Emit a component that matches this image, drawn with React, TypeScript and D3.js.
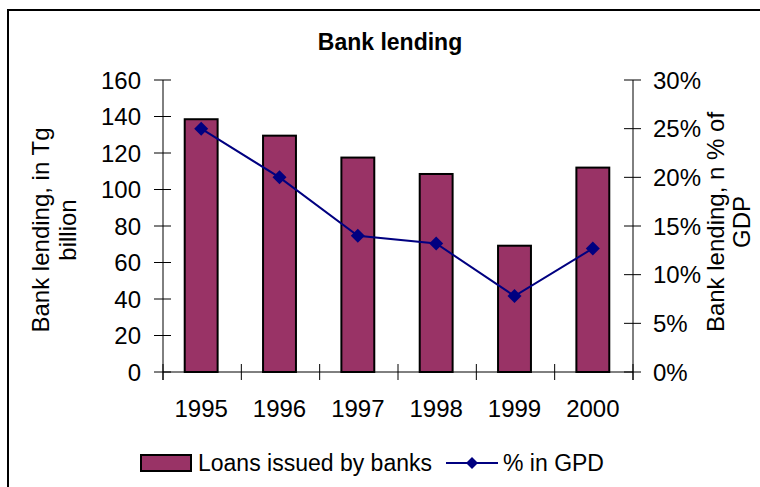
import React from "react";
import * as d3 from "d3";

const years = ["1995", "1996", "1997", "1998", "1999", "2000"];
const loans = [138.5, 129.5, 117.5, 108.5, 69.2, 112];
const pctGdp = [0.25, 0.2, 0.14, 0.132, 0.078, 0.127];
const leftTicks = [0, 20, 40, 60, 80, 100, 120, 140, 160];
const rightTicks = [0, 0.05, 0.1, 0.15, 0.2, 0.25, 0.3];

const W = 760;
const H = 487;
const FONT = "'Liberation Sans', Arial, sans-serif";
const BAR = "#993366";
const LINE = "#000080";
const FS = 24;

export default function App() {
  const x = d3.scaleBand<string>().domain(years).range([163, 633]).padding(0);
  const yL = d3.scaleLinear().domain([0, 160]).range([372, 80]);
  const yR = d3.scaleLinear().domain([0, 0.3]).range([372, 80]);
  const bw = x.bandwidth() * 0.42;
  const cx = (d: string) => (x(d) as number) + x.bandwidth() / 2 - 1;
  const line = d3
    .line<number>()
    .x((_, i) => cx(years[i]))
    .y((d) => yR(d));
  const diamond = (px: number, py: number, r: number) =>
    `M${px},${py - r}L${px + r},${py}L${px},${py + r}L${px - r},${py}Z`;
  const pctFmt = d3.format(".0%");
  const boundaries = years.map((d) => x(d) as number).concat([633]);

  return (
    <svg
      width={W}
      height={H}
      style={{ position: "absolute", left: 0, top: 0, background: "#fff" }}
      fontFamily={FONT}
    >
      <rect x={0} y={0} width={W} height={H} fill="#fff" />
      <rect x={8} y={10} width={800} height={520} fill="none" stroke="#000" strokeWidth={2} />
      <text x={390} y={50} textAnchor="middle" fontWeight="bold" fontSize={23}>
        Bank lending
      </text>

      {/* bars */}
      {years.map((d, i) => (
        <rect
          key={d}
          x={cx(d) - bw / 2}
          y={yL(loans[i])}
          width={bw}
          height={yL(0) - yL(loans[i])}
          fill={BAR}
          stroke="#000"
          strokeWidth={2}
        />
      ))}

      {/* left axis */}
      <line x1={163} x2={163} y1={80} y2={380} stroke="#000" strokeWidth={1} />
      {leftTicks.map((t) => (
        <g key={t}>
          <line x1={154} x2={171} y1={yL(t)} y2={yL(t)} stroke="#000" />
          <text x={141} y={yL(t)} dy="0.36em" textAnchor="end" fontSize={FS}>
            {t}
          </text>
        </g>
      ))}

      {/* right axis */}
      <line x1={633} x2={633} y1={80} y2={380} stroke="#000" strokeWidth={1} />
      {rightTicks.map((t) => (
        <g key={t}>
          <line x1={624} x2={641} y1={yR(t)} y2={yR(t)} stroke="#000" />
          <text x={653} y={yR(t)} dy="0.36em" textAnchor="start" fontSize={FS}>
            {pctFmt(t)}
          </text>
        </g>
      ))}

      {/* x axis */}
      <line x1={163} x2={633} y1={372} y2={372} stroke="#000" strokeWidth={1} />
      {boundaries.map((b, i) => (
        <line key={i} x1={b} x2={b} y1={364} y2={380} stroke="#000" />
      ))}
      {years.map((d) => (
        <text key={d} x={cx(d)} y={417} textAnchor="middle" fontSize={FS}>
          {d}
        </text>
      ))}

      {/* line series */}
      <path d={line(pctGdp) || ""} fill="none" stroke={LINE} strokeWidth={2} />
      {pctGdp.map((v, i) => (
        <path key={i} d={diamond(cx(years[i]), yR(v), 7)} fill={LINE} />
      ))}

      {/* axis titles */}
      <text transform="translate(49,230) rotate(-90)" textAnchor="middle" fontSize={FS}>
        Bank lending, in Tg
      </text>
      <text transform="translate(76,230) rotate(-90)" textAnchor="middle" fontSize={FS}>
        billion
      </text>
      <text transform="translate(724,222) rotate(-90)" textAnchor="middle" fontSize={FS}>
        Bank lending, n % of
      </text>
      <text transform="translate(750,222) rotate(-90)" textAnchor="middle" fontSize={FS}>
        GDP
      </text>

      {/* legend */}
      <rect x={141} y={455} width={50} height={16} fill={BAR} stroke="#000" strokeWidth={2} />
      <text x={198} y={471} fontSize={23}>
        Loans issued by banks
      </text>
      <line x1={446} x2={498} y1={463} y2={463} stroke={LINE} strokeWidth={2} />
      <path d={diamond(472, 463, 6)} fill={LINE} />
      <text x={503} y={471} fontSize={23}>
        % in GPD
      </text>
    </svg>
  );
}
